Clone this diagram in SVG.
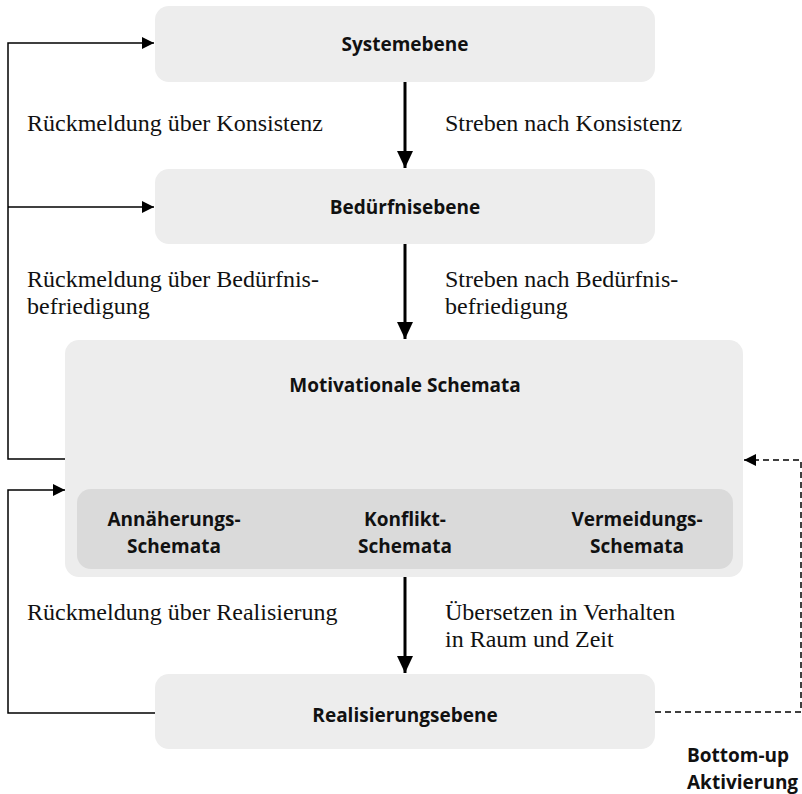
<svg xmlns="http://www.w3.org/2000/svg" width="802" height="794" viewBox="0 0 802 794">
<style>
.box{fill:#ededed}
.inner{fill:#dadada}
.h{font-family:"Open Sans","Noto Sans",sans-serif;font-weight:700;font-size:19px;fill:#111;text-anchor:middle}
.bl{font-family:"Open Sans","Noto Sans",sans-serif;font-weight:700;font-size:19px;fill:#111}
.s{font-family:"Liberation Serif","Times New Roman",serif;font-size:24px;fill:#111}
.thick{stroke:#000;stroke-width:3;fill:none}
.thin{stroke:#000;stroke-width:1.5;fill:none}
.dash{stroke:#000;stroke-width:1.5;fill:none;stroke-dasharray:6 4}
</style>
<defs>
<marker id="big" markerUnits="userSpaceOnUse" markerWidth="18" markerHeight="16" refX="17" refY="8" orient="auto"><path d="M0,0 L17,8 L0,16 Z" fill="#000"/></marker>
<marker id="small" markerUnits="userSpaceOnUse" markerWidth="12" markerHeight="12" refX="12" refY="6" orient="auto"><path d="M0,0 L12,6 L0,12 Z" fill="#000"/></marker>
</defs>
<g id="systemebene">
<rect class="box" x="155" y="6" width="500" height="76" rx="14"/>
<text class="h" x="405" y="51">Systemebene</text>
</g>
<g id="beduerfnisebene">
<rect class="box" x="155" y="169" width="500" height="75" rx="14"/>
<text class="h" x="405" y="214">Bedürfnisebene</text>
</g>
<g id="motivationale-schemata">
<rect class="box" x="65" y="340" width="678" height="237" rx="14"/>
<text class="h" x="405" y="392">Motivationale Schemata</text>
<rect class="inner" x="77" y="489" width="656" height="80" rx="14"/>
<text class="h" x="174" y="526">Annäherungs-</text>
<text class="h" x="174" y="553">Schemata</text>
<text class="h" x="405" y="526">Konflikt-</text>
<text class="h" x="405" y="553">Schemata</text>
<text class="h" x="637" y="526">Vermeidungs-</text>
<text class="h" x="637" y="553">Schemata</text>
</g>
<g id="realisierungsebene">
<rect class="box" x="155" y="674" width="500" height="75" rx="14"/>
<text class="h" x="405" y="722">Realisierungsebene</text>
</g>
<g id="connectors">
<line class="thick" x1="405" y1="82" x2="405" y2="168" marker-end="url(#big)"/>
<line class="thick" x1="405" y1="244" x2="405" y2="339" marker-end="url(#big)"/>
<line class="thick" x1="405" y1="577" x2="405" y2="673" marker-end="url(#big)"/>
<polyline class="thin" points="65,459 8,459 8,43 154,43" marker-end="url(#small)"/>
<line class="thin" x1="8" y1="207" x2="154" y2="207" marker-end="url(#small)"/>
<polyline class="thin" points="155,713 8,713 8,490 65,490" marker-end="url(#small)"/>
<polyline class="dash" points="655,712 801,712 801,460 744,460" marker-end="url(#small)"/>
</g>
<g id="labels">
<text class="s" x="27" y="131">Rückmeldung über Konsistenz</text>
<text class="s" x="445" y="131">Streben nach Konsistenz</text>
<text class="s" x="27" y="287">Rückmeldung über Bedürfnis-</text>
<text class="s" x="27" y="314">befriedigung</text>
<text class="s" x="445" y="287">Streben nach Bedürfnis-</text>
<text class="s" x="445" y="314">befriedigung</text>
<text class="s" x="27" y="620">Rückmeldung über Realisierung</text>
<text class="s" x="445" y="620">Übersetzen in Verhalten</text>
<text class="s" x="445" y="647">in Raum und Zeit</text>
<text class="bl" x="687" y="762">Bottom-up</text>
<text class="bl" x="687" y="789">Aktivierung</text>
</g>
</svg>
